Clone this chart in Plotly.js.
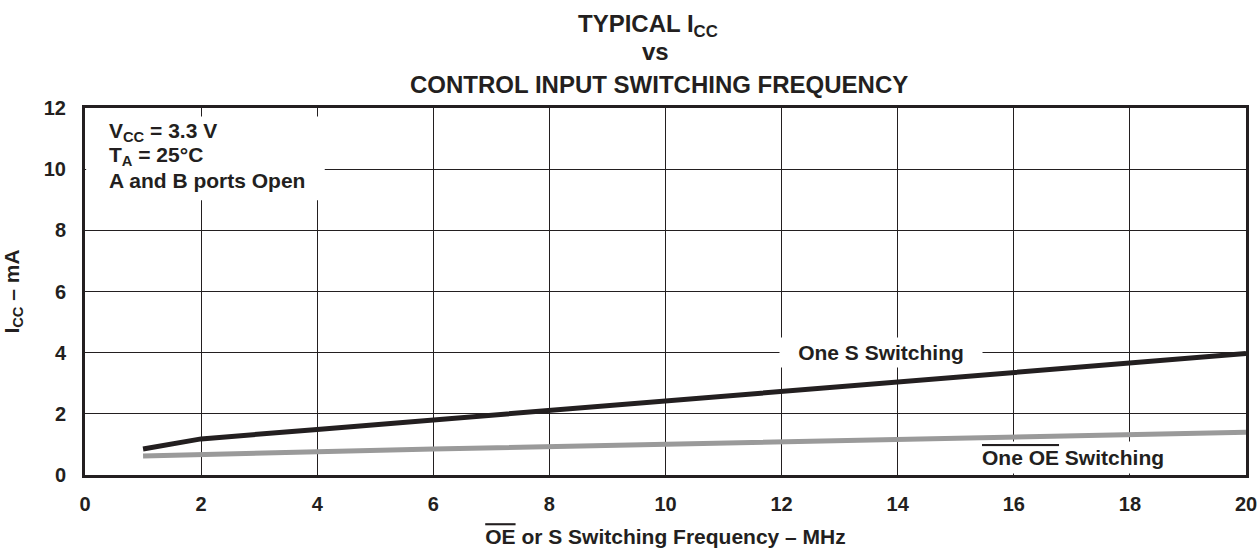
<!DOCTYPE html>
<html><head><meta charset="utf-8">
<script src="https://cdn.plot.ly/plotly-3.0.1.min.js"></script>
<style>html,body{margin:0;padding:0;background:#fff;}</style>
</head><body><div id="chart" style="width:1257px;height:551px;"></div>
<script>
const freqS = [1, 2, 4, 6, 8, 10, 12, 14, 16, 18, 20];
const iccOneS = [0.85, 1.18, 1.49, 1.8, 2.1, 2.41, 2.72, 3.03, 3.35, 3.66, 3.97];
const freqOE = [1, 2, 4, 6, 8, 10, 12, 14, 16, 18, 20];
const iccOneOE = [0.62, 0.68, 0.76, 0.85, 0.93, 1.01, 1.09, 1.17, 1.25, 1.33, 1.40];
const xTicks = [0, 2, 4, 6, 8, 10, 12, 14, 16, 18, 20];
const yTicks = [0, 2, 4, 6, 8, 10, 12];
const titleLines = ['TYPICAL I<sub>CC</sub>', 'vs', 'CONTROL INPUT SWITCHING FREQUENCY'];
const conditionLines = ['V<sub>CC</sub> = 3.3 V', 'T<sub>A</sub> = 25°C', 'A and B ports Open'];

const font = 'Liberation Sans, Arial, Helvetica, sans-serif';
const ink = '#231f20';
const traces = [
  {x: freqOE, y: iccOneOE, mode: 'lines', line: {color: '#9a9a9a', width: 5}, hoverinfo: 'skip'},
  {x: freqS, y: iccOneS, mode: 'lines', line: {color: ink, width: 5}, hoverinfo: 'skip'}
];
const titleY = [1.225, 1.153, 1.064];
const titleShift = [-18, -10, -7];
const annotations = titleLines.map((t, i) => ({
  xref: 'paper', yref: 'paper', x: 0.5, y: titleY[i], xshift: titleShift[i],
  xanchor: 'center', yanchor: 'middle',
  text: '<b>' + t + '</b>', showarrow: false, font: {size: 24, family: font, color: ink}
}));
const condY = [11.22, 10.42, 9.62];
conditionLines.forEach((t, i) => annotations.push({
  xref: 'x', yref: 'y', x: 0.38, y: condY[i], xanchor: 'left', yanchor: 'middle', align: 'left',
  text: '<b>' + t + '</b>', showarrow: false, font: {size: 21, family: font, color: ink}
}));
annotations.push(
  {xref: 'x', yref: 'y', x: 11.95, y: 4, xanchor: 'left', yanchor: 'middle', align: 'center',
   width: 196, text: '<b>One S Switching</b>', showarrow: false, bgcolor: '#fff', borderpad: 3,
   font: {size: 21, family: font, color: ink}},
  {xref: 'x', yref: 'y', x: 15.36, y: 0, yshift: 1, xanchor: 'left', yanchor: 'bottom',
   text: '<b><span style="text-decoration:overline">One OE</span> Switching</b>', showarrow: false,
   bgcolor: '#fff', borderpad: 4, font: {size: 21, family: font, color: ink}}
);
const layout = {
  width: 1257, height: 551,
  margin: {l: 85, r: 11, t: 108, b: 76},
  paper_bgcolor: '#fff', plot_bgcolor: '#fff',
  showlegend: false,
  font: {family: font, color: ink, size: 20},
  shapes: [
    {type: 'rect', xref: 'x', yref: 'y', x0: 0.02, x1: 4.13, y0: 8.98, y1: 11.72,
     fillcolor: '#fff', line: {width: 0}, layer: 'above'}
  ],
  xaxis: {
    range: [0, 20], tickvals: xTicks, ticktext: xTicks.map(v => '<b>' + v + '</b>'),
    showgrid: true, gridcolor: ink, gridwidth: 1,
    showline: true, linecolor: ink, linewidth: 3, mirror: true,
    zeroline: false, ticks: '', tickfont: {size: 20, family: font, color: ink},
    ticklabelstandoff: 9, ticklabeloverflow: 'allow',
    title: {text: '<b><span style="text-decoration:overline">OE</span> or S Switching Frequency – MHz</b>', standoff: 16,
      font: {size: 21, family: font, color: ink}}
  },
  yaxis: {
    range: [0, 12], tickvals: yTicks, ticktext: yTicks.map(v => '<b>' + v + '</b>'),
    showgrid: true, gridcolor: ink, gridwidth: 1,
    showline: true, linecolor: ink, linewidth: 3, mirror: true,
    zeroline: false, ticks: '', tickfont: {size: 20, family: font, color: ink},
    ticklabelstandoff: 12, ticklabeloverflow: 'allow',
    title: {text: '<b>I<sub>CC</sub> – mA</b>', standoff: 20, font: {size: 21, family: font, color: ink}}
  },
  annotations: annotations
};
Plotly.newPlot('chart', traces, layout, {displayModeBar: false, staticPlot: true});
</script></body></html>
